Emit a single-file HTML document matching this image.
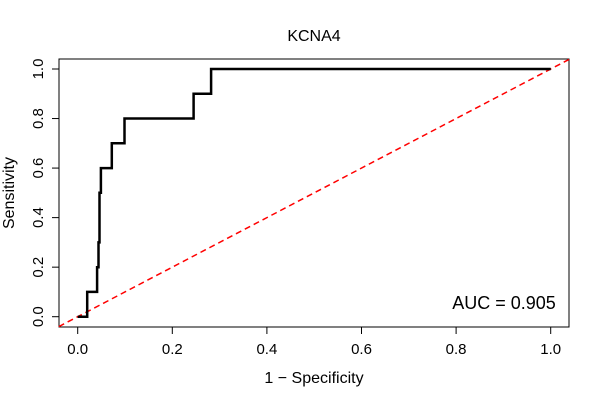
<!DOCTYPE html>
<html><head><meta charset="utf-8"><style>
body{margin:0;background:#fff}
svg text{font-family:"Liberation Sans",Arial,sans-serif;fill:#000}
</style></head><body>
<svg id="c" width="600" height="400" xmlns="http://www.w3.org/2000/svg"></svg>
<script>
const fprValues=[0,0.02,0.02,0.041,0.041,0.044,0.044,0.046,0.046,0.049,0.049,0.072,0.072,0.099,0.099,0.245,0.245,0.282,0.282,1.0];
const tprValues=[0,0,0.1,0.1,0.2,0.2,0.3,0.3,0.5,0.5,0.6,0.6,0.7,0.7,0.8,0.8,0.9,0.9,1.0,1.0];
const xTicks=[0,0.2,0.4,0.6,0.8,1.0];
const yTicks=[0,0.2,0.4,0.6,0.8,1.0];
const xTickLabels=["0.0","0.2","0.4","0.6","0.8","1.0"];
const yTickLabels=["0.0","0.2","0.4","0.6","0.8","1.0"];
const aucText="AUC = 0.905";
const titleText="KCNA4";

const svg=document.getElementById('c');
const NS="http://www.w3.org/2000/svg";
const X=v=>77.7+v*473, Y=v=>316.7-v*247.7;
function mk(tag,attrs,text){const e=document.createElementNS(NS,tag);for(const k in attrs)e.setAttribute(k,attrs[k]);if(text!==undefined)e.textContent=text;svg.appendChild(e);return e;}

let box=mk('rect',{x:59,y:59,width:510,height:268,fill:'none',stroke:'#000','stroke-width':1});



xTicks.forEach((t,i)=>{
 let l=mk('line',{x1:X(t),x2:X(t),y1:327,y2:334,stroke:'#000'});
 
 
 let tx=mk('text',{x:X(t),y:354,'font-size':15,'text-anchor':'middle'},xTickLabels[i]);
 
 
});
yTicks.forEach((t,i)=>{
 let l=mk('line',{x1:52,x2:59,y1:Y(t),y2:Y(t),stroke:'#000'});
 
 
 let tx=mk('text',{x:0,y:0,'font-size':15,'text-anchor':'middle',transform:`translate(43,${Y(t)}) rotate(-90)`},yTickLabels[i]);
 
 
});

let diag=mk('line',{x1:X(-0.04),y1:Y(-0.04),x2:569,y2:Y((569-77.7)/473),stroke:'#ff0000','stroke-width':1.5,'stroke-dasharray':'6,4'});



let pts=fprValues.map((f,i)=>X(f).toFixed(1)+','+Y(tprValues[i]).toFixed(1)).join(' ');
let roc=mk('polyline',{points:pts,fill:'none',stroke:'#000','stroke-width':2.5});



let ti=mk('text',{x:314,y:41,'font-size':16,'text-anchor':'middle'},titleText);


let xl=mk('text',{x:314,y:383,'font-size':16,'text-anchor':'middle'},'1 − Specificity');


let yl=mk('text',{x:0,y:0,'font-size':16,'text-anchor':'middle',transform:'translate(14,193) rotate(-90)'},'Sensitivity');


let au=mk('text',{x:504,y:309,'font-size':18,'text-anchor':'middle'},aucText);


</script>
</body></html>
